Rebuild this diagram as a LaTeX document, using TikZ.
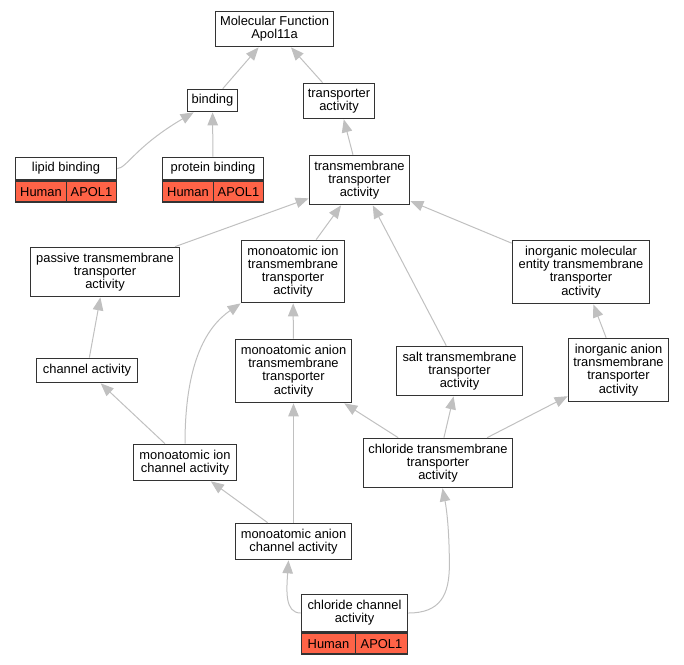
\documentclass[tikz,border=0pt]{standalone}
\usepackage{fontspec}
\setmainfont{Liberation Sans}
\usetikzlibrary{arrows.meta}
\definecolor{tomato}{RGB}{255,99,71}
\definecolor{linkgray}{RGB}{192,192,192}

\begin{document}
\begin{tikzpicture}[
        x=1pt, y=-1pt,
        every node/.style={font=\fontsize{12.9}{13.2}\selectfont, inner sep=0pt, align=center},
        term/.style={draw=black!80, line width=1.7pt, fill=white},
        gene/.style={draw=black!80, line width=1.7pt, fill=tomato, minimum height=21pt},
        link/.style={draw=linkgray, line width=1pt, -{Triangle[length=13pt, width=10.5pt]}}
    ]
 \useasboundingbox (0,0) rectangle (684,664);
 % terms
 \node[term, minimum width=118pt, minimum height=35pt] (mf) at (274.5,29) {Molecular Function\\Apol11a};
 \node[term, minimum width=50pt, minimum height=22pt] (bind) at (212.5,100.5) {binding};
 \node[term, minimum width=71pt, minimum height=35pt] (transp) at (339,101) {transporter\\activity};
 \node[term, minimum width=101pt, minimum height=22pt] (lip) at (66,168.5) {lipid binding};
 \node[gene, minimum width=51pt, anchor=north west] (lip-sp) at (lip.south west) {Human};
 \node[gene, minimum width=50pt, anchor=north east] (lip-gn) at (lip.south east) {APOL1};
 \node[term, minimum width=101pt, minimum height=22pt] (prot) at (213,168.5) {protein binding};
 \node[gene, minimum width=51pt, anchor=north west] (prot-sp) at (prot.south west) {Human};
 \node[gene, minimum width=50pt, anchor=north east] (prot-gn) at (prot.south east) {APOL1};
 \node[term, minimum width=100pt, minimum height=49pt] (tmta) at (359.5,180) {transmembrane\\transporter\\activity};
 \node[term, minimum width=149pt, minimum height=49pt] (passive) at (105,272) {passive transmembrane\\transporter\\activity};
 \node[term, minimum width=103pt, minimum height=62pt] (ionta) at (293,271.5) {monoatomic ion\\transmembrane\\transporter\\activity};
 \node[term, minimum width=137pt, minimum height=63pt] (inorgta) at (581,272) {inorganic molecular\\entity transmembrane\\transporter\\activity};
 \node[term, minimum width=101pt, minimum height=24pt] (chan) at (87,370.5) {channel activity};
 \node[term, minimum width=116pt, minimum height=63pt] (anionta) at (293.5,371) {monoatomic anion\\transmembrane\\transporter\\activity};
 \node[term, minimum width=126pt, minimum height=49pt] (saltta) at (459.5,371) {salt transmembrane\\transporter\\activity};
 \node[term, minimum width=100pt, minimum height=63pt] (ianionta) at (618.5,370) {inorganic anion\\transmembrane\\transporter\\activity};
 \node[term, minimum width=103pt, minimum height=36pt] (ionchan) at (185,462.5) {monoatomic ion\\channel activity};
 \node[term, minimum width=149pt, minimum height=49pt] (clta) at (438,463) {chloride transmembrane\\transporter\\activity};
 \node[term, minimum width=116pt, minimum height=36pt] (anionchan) at (293.5,541.5) {monoatomic anion\\channel activity};
 \node[term, minimum width=106pt, minimum height=37pt] (clchan) at (354.5,613) {chloride channel\\activity};
 \node[gene, minimum width=54pt, anchor=north west] (clchan-sp) at (clchan.south west) {Human};
 \node[gene, minimum width=52pt, anchor=north east] (clchan-gn) at (clchan.south east) {APOL1};
 % is_a links
 \draw[link] (bind) -- (mf);
 \draw[link] (transp) -- (mf);
 \draw[link] (lip.east) .. controls +(9,0) and +(-58,34) .. ([xshift=7pt]bind.south west);
 \draw[link] (prot) -- (bind);
 \draw[link] (tmta) -- (transp);
 \draw[link] (passive) -- (tmta);
 \draw[link] (ionta) -- (tmta);
 \draw[link] (saltta) -- (tmta);
 \draw[link] (inorgta) -- (tmta);
 \draw[link] (chan) -- (passive);
 \draw[link] (anionta) -- (ionta);
 \draw[link] (ianionta) -- (inorgta);
 \draw[link] (ionchan) -- (chan);
 \draw[link] (ionchan.north) .. controls +(0,-85) and +(-32,22) .. (ionta.south west);
 \draw[link] (clta) -- (anionta);
 \draw[link] (clta) -- (saltta);
 \draw[link] (clta) -- (ianionta);
 \draw[link] (anionchan) -- (ionchan);
 \draw[link] (anionchan) -- (anionta);
 \draw[link] (clchan.west) .. controls +(-16,0) and +(-2,30) .. ([xshift=-5pt]anionchan.south);
 \draw[link] (clchan.east) .. controls +(32,0) and +(0,30) .. ++(41,-48)
     .. controls +(0,-35) and +(4,20) .. ([xshift=4.5pt]clta.south);
\end{tikzpicture}
\end{document}
